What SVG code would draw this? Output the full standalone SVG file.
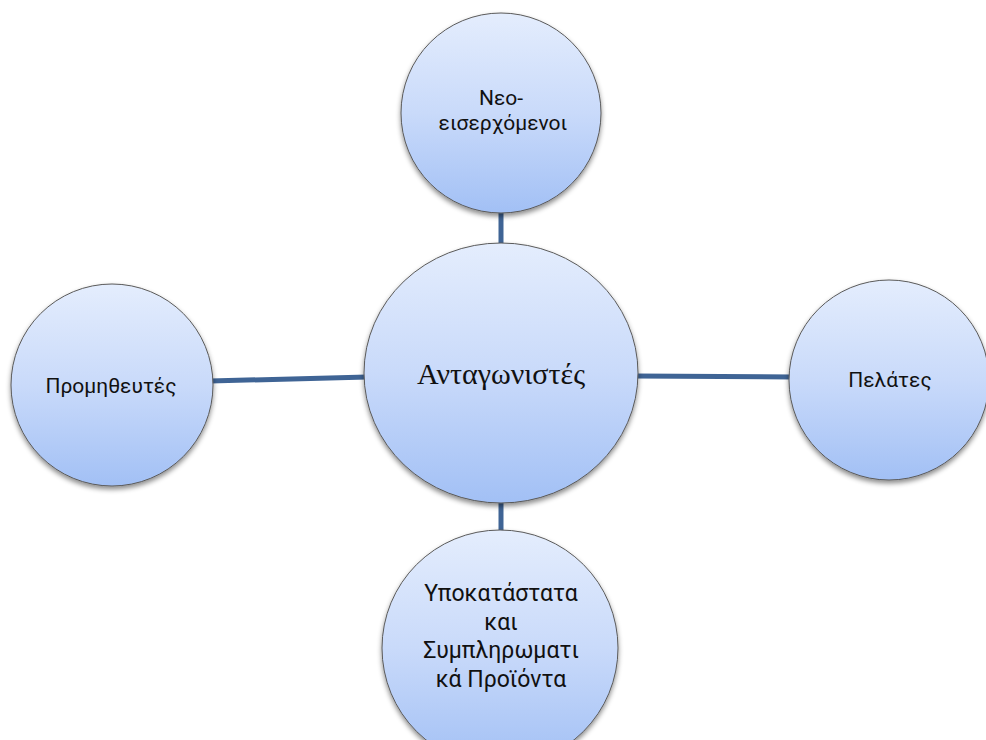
<svg xmlns="http://www.w3.org/2000/svg" width="986" height="740" viewBox="0 0 986 740">
  <defs>
    <linearGradient id="fill" x1="0" y1="0" x2="0" y2="1">
      <stop offset="0" stop-color="#e4edfd"/>
      <stop offset="0.5" stop-color="#c9dafa"/>
      <stop offset="1" stop-color="#a2c0f5"/>
    </linearGradient>
    <filter id="shadow" x="-20%" y="-20%" width="140%" height="150%">
      <feDropShadow dx="0" dy="3" stdDeviation="2.5" flood-color="#000" flood-opacity="0.45"/>
    </filter>
  </defs>
  <style>
    .bubble { fill: url(#fill); stroke: #5a5a5a; stroke-width: 1; filter: url(#shadow); }
    .conn { stroke: #3f6495; stroke-width: 5; fill: none; }
    .lbl { font-family: Roboto, "Open Sans", sans-serif; font-size: 21px; fill: #111; text-anchor: middle; }
    .lbl-big { font-family: Roboto, "Open Sans", sans-serif; font-size: 23px; fill: #111; text-anchor: middle; }
    .lbl-serif { font-family: "Liberation Serif", "Times New Roman", serif; font-size: 30px; fill: #111; text-anchor: middle; }
  </style>
  <rect width="986" height="740" fill="#ffffff"/>
  <g id="connectors">
    <line class="conn" x1="501" y1="210" x2="501" y2="246"/>
    <line class="conn" x1="501" y1="500" x2="501" y2="533"/>
    <line class="conn" x1="210" y1="381" x2="367" y2="377"/>
    <line class="conn" x1="636" y1="376" x2="793" y2="377"/>
  </g>
  <g id="node-top">
    <circle class="bubble" cx="501" cy="113" r="100"/>
    <text class="lbl" x="501" y="105">Νεο-</text>
    <text class="lbl" x="503" y="130">εισερχόμενοι</text>
  </g>
  <g id="node-left">
    <circle class="bubble" cx="112" cy="385" r="101"/>
    <text class="lbl" x="111" y="393">Προμηθευτές</text>
  </g>
  <g id="node-right">
    <circle class="bubble" cx="889" cy="380" r="100"/>
    <text class="lbl" x="890" y="387">Πελάτες</text>
  </g>
  <g id="node-bottom">
    <circle class="bubble" cx="500" cy="648" r="118"/>
    <text class="lbl-big" x="501" y="601">Υποκατάστατα</text>
    <text class="lbl-big" x="501" y="630">και</text>
    <text class="lbl-big" x="501" y="658">Συμπληρωματι</text>
    <text class="lbl-big" x="501" y="687">κά Προϊόντα</text>
  </g>
  <g id="node-center">
    <ellipse class="bubble" cx="501" cy="373" rx="137" ry="130"/>
    <text class="lbl-serif" x="501" y="384">Ανταγωνιστές</text>
  </g>
</svg>
